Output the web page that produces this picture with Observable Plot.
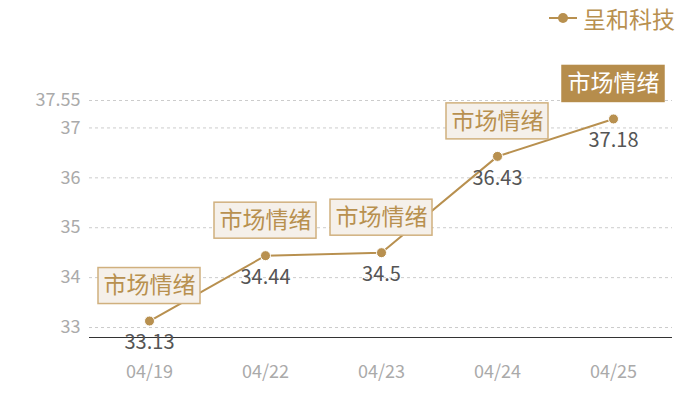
<!DOCTYPE html>
<html>
<head>
<meta charset="utf-8">
<script src="https://cdn.jsdelivr.net/npm/d3@7"></script>
<script src="https://cdn.jsdelivr.net/npm/@observablehq/plot@0.6"></script>
<style>
  html, body { margin: 0; padding: 0; background: #fff; }
  body { width: 700px; height: 400px; overflow: hidden; font-family: 'Noto Sans CJK SC', 'Noto Sans', sans-serif; }
  #legend { height: 36px; display: flex; justify-content: flex-end; align-items: center; padding-right: 25px; box-sizing: border-box; color: #b8904f; font-size: 23px; }
  #legend svg { margin-right: 6px; }
</style>
</head>
<body>
<div id="legend"></div>
<div id="chart"></div>
<script>
const seriesName = "呈和科技";
const dates = ["04/19", "04/22", "04/23", "04/24", "04/25"];
const values = [33.13, 34.44, 34.5, 36.43, 37.18];
const tags = ["市场情绪", "市场情绪", "市场情绪", "市场情绪", "市场情绪"];
const highlighted = [false, false, false, false, true];
const yTicks = [33, 34, 35, 36, 37, 37.55];
const yDomain = [32.8, 37.55];

const gold = "#b8904f";
const rows = dates.map((d, i) => ({date: d, value: values[i], tag: tags[i], hi: highlighted[i]}));

// legend
const leg = document.getElementById("legend");
leg.innerHTML = `<svg width="28" height="12"><line x1="0" x2="28" y1="6" y2="6" stroke="${gold}" stroke-width="2"/><circle cx="14" cy="6" r="5" fill="${gold}"/></svg><span>${seriesName}</span>`;

const chart = Plot.plot({
  width: 700,
  height: 364,
  marginTop: 64,
  marginBottom: 63,
  marginLeft: 89,
  marginRight: 28,
  style: {fontFamily: "'Noto Sans CJK SC', 'Noto Sans', sans-serif", fontSize: "18px", background: "#fff"},
  x: {type: "point", domain: dates, padding: 0.5, label: null},
  y: {domain: yDomain, label: null},
  marks: [
    Plot.gridY(yTicks, {stroke: "#cccccc", strokeOpacity: 1, strokeDasharray: "3,3"}),
    Plot.axisY({ticks: yTicks, tickSize: 0, tickPadding: 9, color: "#aaaaaa", fontSize: 18, tickFormat: d => `${d}`, label: null}),
    Plot.axisX({tickSize: 0, tickPadding: 28, color: "#aaaaaa", fontSize: 18, label: null}),
    Plot.ruleY([yDomain[0]], {stroke: "#333"}),
    Plot.line(rows, {x: "date", y: "value", stroke: gold, strokeWidth: 2}),
    Plot.rect(rows, {
      x1: "date", x2: "date", y1: "value", y2: "value",
      insetLeft: -51, insetRight: -51, insetTop: -18, insetBottom: -18,
      dy: -35,
      fill: d => d.hi ? "#b68d4c" : "#f5f0ea",
      stroke: d => d.hi ? "#b68d4c" : "#d0b07e",
      strokeWidth: 1.5
    }),
    Plot.text(rows, {x: "date", y: "value", text: "tag", dy: -35, fontSize: 23,
      fill: d => d.hi ? "#ffffff" : gold}),
    Plot.dot(rows, {x: "date", y: "value", r: 5, fill: gold, stroke: "#fff", strokeWidth: 1}),
    Plot.text(rows, {x: "date", y: "value", text: d => `${d.value}`, dy: 22, fontSize: 20, fill: "#555"})
  ]
});
document.getElementById("chart").appendChild(chart);
</script>
</body>
</html>
